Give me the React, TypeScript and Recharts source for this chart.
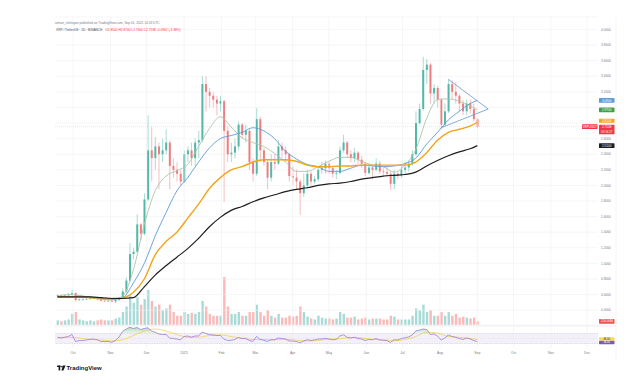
import { ComposedChart, Bar, Line, Area, XAxis, YAxis, CartesianGrid, ReferenceLine, ReferenceArea } from 'recharts';

const FONT = '"Liberation Sans", Arial, sans-serif';
const UP = '#52b8a8';
const DOWN = '#ec7f80';
const GRID = '#eef0f4';

// 3-day candles, day numbers counted from 2024-09-01 (open = previous close)
const firstDay = 17;
const stepDays = 3;
const firstOpen = 0.58;

const closes = [
  0.59, 0.58, 0.59, 0.6, 0.62, 0.53, 0.54, 0.54, 0.545, 0.55,
  0.555, 0.54, 0.52, 0.515, 0.52, 0.51, 0.53, 0.56, 0.64, 0.78,
  1.12, 1.15, 1.5, 1.38, 1.82, 2.45, 2.35, 2.5, 2.4, 2.45,
  2.55, 2.25, 2.2, 2.15, 2.05, 2.4, 2.45, 2.35, 2.55, 2.58,
  3.3, 3.2, 3.15, 3.1, 3.05, 3.08, 2.7, 2.4, 2.42, 2.5,
  2.78, 2.65, 2.7, 2.3, 2.15, 2.85, 2.45, 2.3, 2.1, 2.3,
  2.28, 2.5, 2.45, 2.4, 2.12, 2.1, 2.05, 1.9, 2.0, 2.15,
  2.05, 2.08, 2.2, 2.22, 2.28, 2.22, 2.15, 2.16, 2.45, 2.55,
  2.4, 2.35, 2.42, 2.33, 2.28, 2.16, 2.23, 2.2, 2.28, 2.18,
  2.17, 2.15, 2.02, 2.15, 2.12, 2.2, 2.23, 2.28, 2.4, 2.8,
  2.98, 3.48, 3.55, 3.18, 3.25, 3.1, 2.78, 2.95, 3.3, 3.2,
  3.15, 3.05, 2.95, 3.05, 2.98, 2.85, 2.7538,
];
const highs = [
  0.6, 0.6, 0.6, 0.62, 0.66, 0.63, 0.55, 0.55, 0.555, 0.56,
  0.565, 0.56, 0.545, 0.53, 0.53, 0.53, 0.55, 0.57, 0.68, 0.82,
  1.26, 1.2, 1.63, 1.52, 1.9, 2.9, 2.75, 2.62, 2.55, 2.6,
  2.72, 2.58, 2.35, 2.3, 2.2, 2.45, 2.5, 2.55, 2.6, 2.7,
  3.4, 3.4, 3.25, 3.2, 3.15, 3.15, 3.1, 2.75, 2.55, 2.6,
  2.82, 2.8, 2.78, 2.72, 2.35, 2.99, 2.88, 2.48, 2.32, 2.4,
  2.4, 2.58, 2.55, 2.5, 2.42, 2.25, 2.2, 2.08, 2.15, 2.2,
  2.18, 2.12, 2.25, 2.3, 2.32, 2.3, 2.25, 2.2, 2.5, 2.65,
  2.57, 2.45, 2.48, 2.44, 2.38, 2.3, 2.28, 2.25, 2.35, 2.32,
  2.22, 2.25, 2.18, 2.2, 2.18, 2.25, 2.3, 2.32, 2.45, 2.95,
  3.05, 3.65, 3.62, 3.57, 3.3, 3.28, 3.12, 3.05, 3.36, 3.35,
  3.32, 3.17, 3.1, 3.1, 3.1, 3.05, 2.87,
];
const lows = [
  0.57, 0.57, 0.57, 0.58, 0.59, 0.51, 0.52, 0.52, 0.53, 0.535,
  0.54, 0.53, 0.51, 0.505, 0.505, 0.5, 0.49, 0.52, 0.55, 0.62,
  0.77, 1.05, 1.12, 1.3, 1.36, 1.8, 2.05, 2.2, 1.95, 2.3,
  2.4, 1.95, 2.1, 2.05, 2.0, 2.03, 2.3, 2.25, 2.25, 2.35,
  2.55, 2.95, 3.0, 3.0, 2.9, 2.95, 1.79, 2.3, 2.3, 2.35,
  2.45, 2.6, 2.55, 2.2, 2.05, 2.12, 2.3, 2.25, 1.95, 2.05,
  2.2, 2.26, 2.35, 2.3, 2.05, 2.0, 1.95, 1.62, 1.85, 1.95,
  2.0, 2.02, 2.05, 2.15, 2.15, 2.15, 2.1, 2.08, 2.14, 2.42,
  2.35, 2.3, 2.3, 2.28, 2.22, 2.12, 2.14, 2.08, 2.18, 2.15,
  2.13, 2.1, 1.94, 1.95, 2.08, 2.1, 2.15, 2.18, 2.25, 2.38,
  2.78, 2.96, 3.3, 3.05, 3.05, 3.0, 2.72, 2.76, 2.93, 3.1,
  3.05, 2.95, 2.9, 2.9, 2.92, 2.82, 2.73,
];
// volume, millions of XRP
const volumes = [
  150, 120, 150, 180, 360, 420, 180, 150, 120, 150,
  120, 150, 180, 150, 150, 150, 210, 240, 420, 600,
  960, 720, 900, 660, 840, 1140, 780, 600, 660, 480,
  540, 660, 420, 300, 300, 420, 360, 390, 360, 420,
  780, 600, 360, 300, 300, 300, 1560, 600, 360, 360,
  420, 300, 300, 420, 420, 660, 420, 300, 480, 300,
  240, 360, 240, 240, 300, 270, 300, 600, 420, 270,
  210, 180, 300, 240, 210, 210, 180, 210, 420, 360,
  240, 240, 270, 180, 210, 240, 180, 210, 210, 210,
  180, 180, 300, 270, 180, 180, 180, 180, 300, 540,
  480, 660, 420, 480, 300, 300, 420, 300, 420, 300,
  360, 240, 270, 240, 210, 240, 120,
];
const rsi = [
  55, 52, 55, 58, 66, 38, 42, 42, 44, 47,
  48, 45, 38, 38, 38, 35, 42, 55, 78, 88,
  95, 90, 94, 86, 90, 93, 80, 75, 68, 66,
  66, 52, 50, 48, 45, 58, 60, 55, 60, 60,
  76, 70, 66, 64, 62, 62, 48, 42, 43, 46,
  54, 50, 51, 42, 38, 58, 46, 43, 38, 45,
  45, 52, 50, 48, 40, 40, 38, 33, 40, 45,
  42, 44, 48, 48, 51, 48, 45, 46, 60, 65,
  55, 52, 55, 50, 48, 42, 46, 45, 50, 44,
  43, 42, 34, 45, 44, 50, 53, 56, 64, 80,
  84, 88, 86, 66, 68, 60, 44, 52, 64, 58,
  55, 50, 46, 52, 48, 42, 38,
];

// moving averages read every 9 days
const maDays = [
  17, 26, 35, 44, 53, 62, 71, 80, 89, 98,
  107, 116, 125, 134, 143, 152, 161, 170, 179, 188,
  197, 206, 215, 224, 233, 242, 251, 260, 269, 278,
  287, 296, 305, 314, 323, 332, 341, 350, 359, 365,
];
const ma20 = [
  0.58, 0.6, 0.59, 0.56, 0.54, 0.53, 0.58, 0.92, 1.5, 1.93,
  2.12, 2.19, 2.27, 2.5, 2.73, 2.88, 2.75, 2.61, 2.55, 2.5,
  2.41, 2.3, 2.18, 2.18, 2.24, 2.31, 2.36, 2.36, 2.31, 2.26,
  2.24, 2.17, 2.26, 2.46, 2.86, 3.1, 3.11, 3.08, 3.02, 2.97,
];
const ma50 = [
  0.57, 0.57, 0.58, 0.57, 0.55, 0.54, 0.56, 0.75, 1.0, 1.35,
  1.65, 1.93, 2.1, 2.3, 2.48, 2.6, 2.64, 2.68, 2.74, 2.7,
  2.6, 2.44, 2.34, 2.27, 2.24, 2.18, 2.18, 2.22, 2.26, 2.25,
  2.24, 2.25, 2.28, 2.35, 2.53, 2.68, 2.84, 2.95, 3.05, 3.09,
];
const ma100 = [
  0.57, 0.57, 0.57, 0.56, 0.56, 0.55, 0.56, 0.63, 0.8, 1.11,
  1.28, 1.4, 1.58, 1.76, 1.96, 2.1, 2.2, 2.24, 2.3, 2.33,
  2.33, 2.33, 2.31, 2.26, 2.24, 2.24, 2.25, 2.25, 2.26, 2.26,
  2.26, 2.26, 2.26, 2.3, 2.42, 2.58, 2.68, 2.72, 2.76, 2.81,
];
const ma200 = [
  0.57, 0.57, 0.57, 0.57, 0.56, 0.55, 0.55, 0.56, 0.7, 0.85,
  0.97, 1.08, 1.19, 1.32, 1.47, 1.59, 1.68, 1.73, 1.79, 1.84,
  1.88, 1.92, 1.95, 1.97, 2.0, 2.02, 2.03, 2.05, 2.08, 2.1,
  2.12, 2.13, 2.14, 2.17, 2.25, 2.32, 2.38, 2.43, 2.47, 2.51,
];
const rsiMa = [
  53, 55, 52, 46, 44, 40, 45, 62, 80, 88,
  80, 66, 55, 55, 62, 64, 58, 50, 46, 46,
  45, 47, 43, 40, 43, 47, 49, 54, 52, 47,
  45, 41, 46, 58, 75, 72, 58, 55, 50, 46,
];

// triangle drawn on the chart (day, price)
const triangle = [
  { x1: 341, y1: 3.36, x2: 374, y2: 2.98 },
  { x1: 335, y1: 2.74, x2: 374, y2: 2.98 },
];

const priceTicks = [0.4, 0.6, 0.8, 1.0, 1.2, 1.4, 1.6, 1.8, 2.0, 2.2, 2.4, 2.6, 2.8, 3.0, 3.2, 3.4, 3.6, 3.8, 4.0];
// tick labels covered by the value tags on the price scale
const coveredTicks = [2.8, 3.0];
const monthDays = [30, 61, 91, 122, 153, 181, 212, 242, 273, 303, 334, 365, 395, 426, 456];
const monthLabels = ['Oct', 'Nov', 'Dec', '2025', 'Feb', 'Mar', 'Apr', 'May', 'Jun', 'Jul', 'Aug', 'Sep', 'Oct', 'Nov', 'Dec'];

const rows: any[] = closes.map((close, i) => {
  const open = i === 0 ? firstOpen : closes[i - 1];
  return {
    day: firstDay + i * stepDays,
    open,
    close,
    high: highs[i],
    low: lows[i],
    range: [lows[i], highs[i]],
    volume: volumes[i],
    up: close >= open,
    rsi: rsi[i],
    rsiOb: [70, Math.max(70, rsi[i])],
  };
});
maDays.forEach((d, k) => {
  const r = rows.find((row) => row.day === d);
  if (r) Object.assign(r, { ma20: ma20[k], ma50: ma50[k], ma100: ma100[k], ma200: ma200[k], rsiMa: rsiMa[k] });
});

const last = rows[rows.length - 1];
const change = last.close - last.open;

const Candle = (props: any) => {
  const { x, y, width, height, payload } = props;
  if (!payload || height == null) return null;
  const color = payload.up ? UP : DOWN;
  const k = height / Math.max(payload.high - payload.low, 1e-9);
  const yo = y + (payload.high - payload.open) * k;
  const yc = y + (payload.high - payload.close) * k;
  const cx = x + width / 2;
  return (
    <g>
      <line x1={cx} x2={cx} y1={y} y2={y + height} stroke={color} strokeWidth={0.5} />
      <rect x={x} y={Math.min(yo, yc)} width={width} height={Math.max(Math.abs(yo - yc), 0.6)} fill={color} />
    </g>
  );
};

const VolBar = (props: any) => {
  const { x, y, width, height, payload } = props;
  if (!payload || !height) return null;
  return <rect x={x} y={y} width={width} height={height} fill={payload.up ? 'rgba(38,166,154,0.4)' : 'rgba(239,83,80,0.4)'} />;
};

const Tag = (props: any) => {
  const { viewBox, text, sub, bg, fg = '#fff', dy = 0, left, h = 4.8, fs = 3.1 } = props;
  if (!viewBox) return null;
  const y = viewBox.y + dy;
  if (left) {
    const x = viewBox.x + viewBox.width - 16;
    return (
      <g>
        <rect x={x} y={y - 2.4} width={15.5} height={4.8} rx={0.6} fill={bg} />
        <text x={x + 7.75} y={y + 1.1} fontSize={3} textAnchor="middle" fill={fg} fontFamily={FONT}>{text}</text>
      </g>
    );
  }
  const x = viewBox.x + viewBox.width + 1;
  return (
    <g>
      <rect x={x} y={y - h / 2} width={15.5} height={sub ? h + 4.6 : h} rx={0.6} fill={bg} />
      <text x={x + 7.75} y={y + fs * 0.35} fontSize={fs} textAnchor="middle" fill={fg} fontFamily={FONT}>{text}</text>
      {sub && <text x={x + 7.75} y={y + 5.6} fontSize={2.9} textAnchor="middle" fill={fg} fontFamily={FONT}>{sub}</text>}
    </g>
  );
};

const PriceTick = (props: any) => {
  const { x, y, payload } = props;
  if (coveredTicks.includes(payload.value)) return null;
  return (
    <text x={x} y={y + 1.1} fontSize={3.2} fill="#787b86" fontFamily={FONT}>{fmt(payload.value)}</text>
  );
};

const MonthTick = (props: any) => {
  const { x, y, payload } = props;
  return (
    <text x={x} y={y + 6.4} textAnchor="middle" fontSize={3.4} fill="#787b86" fontFamily={FONT}>
      {monthLabels[monthDays.indexOf(payload.value)]}
    </text>
  );
};

const fmt = (v: number) => v.toFixed(4);

export default function App() {
  const xDomain: [number, number] = [15, 465];
  return (
    <div style={{ position: 'absolute', left: 0, top: 0, width: 640, height: 385, background: '#fff', overflow: 'hidden' }}>
      {/* volume */}
      <div style={{ position: 'absolute', left: 0, top: 0 }}>
        <ComposedChart width={640} height={326} data={rows} margin={{ top: 17, right: 42, left: 55, bottom: 1 }}>
          <XAxis dataKey="day" type="number" domain={xDomain} allowDataOverflow hide />
          <YAxis domain={[0, 10000]} allowDataOverflow hide />
          <Bar dataKey="volume" barSize={2.4} shape={<VolBar />} isAnimationActive={false} />
          <ReferenceLine y={last.volume} stroke="none" label={<Tag text={`${last.volume.toFixed(2)}M`} bg="#ef5350" />} />
        </ComposedChart>
      </div>

      {/* price */}
      <div style={{ position: 'absolute', left: 0, top: 0 }}>
        <ComposedChart width={640} height={326} data={rows} margin={{ top: 17, right: 24, left: 55, bottom: 1 }}>
          <CartesianGrid vertical={false} stroke={GRID} strokeWidth={0.6} />
          {monthDays.map((d) => (
            <ReferenceLine key={d} x={d} stroke={GRID} strokeWidth={0.6} />
          ))}
          <XAxis dataKey="day" type="number" domain={xDomain} allowDataOverflow hide />
          <YAxis
            orientation="right"
            width={18}
            domain={[0.21, 4.16]}
            allowDataOverflow
            ticks={priceTicks}
            interval={0}
            tickLine={false}
            axisLine={false}
            tickSize={3}
            tickMargin={0}
            tick={<PriceTick />}
          />
          <Bar dataKey="range" barSize={2} shape={<Candle />} isAnimationActive={false} />
          <Line dataKey="ma20" type="monotone" stroke="#adc5a8" strokeWidth={0.9} dot={false} connectNulls isAnimationActive={false} />
          <Line dataKey="ma50" type="monotone" stroke="#5b9bd8" strokeWidth={0.9} dot={false} connectNulls isAnimationActive={false} />
          <Line dataKey="ma100" type="monotone" stroke="#f0a51c" strokeWidth={1.4} dot={false} connectNulls isAnimationActive={false} />
          <Line dataKey="ma200" type="monotone" stroke="#1e1e1e" strokeWidth={1.2} dot={false} connectNulls isAnimationActive={false} />
          {triangle.map((t, i) => (
            <ReferenceLine
              key={i}
              segment={[{ x: t.x1, y: t.y1 }, { x: t.x2, y: t.y2 }]}
              stroke="#6a95d8"
              strokeWidth={0.8}
            />
          ))}
          <ReferenceLine y={ma50[ma50.length - 1]} stroke="none" label={<Tag text={fmt(ma50[ma50.length - 1])} bg="#5b9bd8" />} />
          <ReferenceLine y={ma20[ma20.length - 1]} stroke="none" label={<Tag text={fmt(ma20[ma20.length - 1])} bg="#43a047" />} />
          <ReferenceLine y={ma100[ma100.length - 1]} stroke="none" label={<Tag text={fmt(ma100[ma100.length - 1])} bg="#f0a51c" dy={-1.6} h={4} />} />
          <ReferenceLine y={ma200[ma200.length - 1]} stroke="none" label={<Tag text={fmt(ma200[ma200.length - 1])} bg="#1e1e1e" />} />
          <ReferenceLine
            y={last.close}
            stroke="#f23645"
            strokeOpacity={0.35}
            strokeWidth={0.5}
            strokeDasharray="1 1"
            label={<Tag text={fmt(last.close)} sub="09:16:27" bg="#f23645" dy={0.6} />}
          />
          <ReferenceLine y={last.close} stroke="none" label={<Tag text="XRPUSDT" bg="#f23645" left />} />
        </ComposedChart>
      </div>

      {/* RSI */}
      <div style={{ position: 'absolute', left: 0, top: 326 }}>
        <ComposedChart width={640} height={34} data={rows} margin={{ top: 1, right: 24, left: 55, bottom: 0 }}>
          <defs>
            <linearGradient id="ob" x1="0" y1="0" x2="0" y2="1">
              <stop offset="0%" stopColor="#4caf50" stopOpacity={0.7} />
              <stop offset="100%" stopColor="#4caf50" stopOpacity={0.15} />
            </linearGradient>
          </defs>
          <ReferenceArea y1={30} y2={70} fill="#7e57c2" fillOpacity={0.09} stroke="none" />
          {monthDays.map((d) => (
            <ReferenceLine key={d} x={d} stroke={GRID} strokeWidth={0.6} />
          ))}
          <ReferenceLine y={70} stroke="#b2b5be" strokeWidth={0.4} strokeDasharray="1.5 1" />
          <ReferenceLine y={50} stroke="#c9cbd2" strokeWidth={0.3} strokeDasharray="0.6 0.8" />
          <ReferenceLine y={30} stroke="#b2b5be" strokeWidth={0.4} strokeDasharray="1.5 1" />
          <XAxis
            dataKey="day"
            type="number"
            domain={xDomain}
            allowDataOverflow
            ticks={monthDays}
            interval={0}
            height={12}
            tickLine={false}
            axisLine={false}
            tickSize={0}
            tickMargin={0}
            tick={<MonthTick />}
          />
          <YAxis
            orientation="right"
            width={18}
            domain={[12, 96]}
            allowDataOverflow
            ticks={[70]}
            tickFormatter={(v: number) => v.toFixed(2)}
            tickLine={false}
            axisLine={false}
            tickSize={3}
            tickMargin={0}
            tick={{ fontSize: 3.1, fill: '#787b86', fontFamily: FONT }}
          />
          <Area dataKey="rsiOb" type="linear" stroke="none" fill="url(#ob)" isAnimationActive={false} />
          <Line dataKey="rsiMa" type="monotone" stroke="#f5c518" strokeWidth={0.6} dot={false} connectNulls isAnimationActive={false} />
          <Line dataKey="rsi" type="linear" stroke="#8e6fd0" strokeWidth={0.7} dot={false} isAnimationActive={false} />
          <ReferenceLine y={rsiMa[rsiMa.length - 1]} stroke="none" label={<Tag text={rsiMa[rsiMa.length - 1].toFixed(2)} bg="#f5e042" fg="#333" h={3.4} fs={2.7} dy={-0.6} />} />
          <ReferenceLine y={last.rsi} stroke="none" label={<Tag text={last.rsi.toFixed(2)} bg="#7e57c2" h={3.4} fs={2.7} dy={1} />} />
        </ComposedChart>
      </div>

      {/* legend, frame and logo */}
      <svg width={640} height={385} style={{ position: 'absolute', left: 0, top: 0, pointerEvents: 'none' }} fontFamily={FONT}>
        <text x={55} y={23.6} fontSize={3.2} fill="#787b86">
          arman_shirinyan published on TradingView.com, Sep 01, 2025 14:43 UTC
        </text>
        <text x={56} y={30.6} fontSize={3.2} fill="#4a4d57">
          XRP / TetherUS · 1D · BINANCE
          <tspan dx={3} fill="#f23645">
            O{fmt(last.open)} H{fmt(last.high)} L{fmt(last.low)} C{fmt(last.close)} {change.toFixed(4)} ({((change / last.open) * 100).toFixed(2)}%)
          </tspan>
        </text>
        <line x1={55} x2={616} y1={326} y2={326} stroke="#e0e3eb" strokeWidth={0.6} />
        <line x1={616} x2={616} y1={17} y2={360} stroke="#eceef2" strokeWidth={0.6} />
        <g fill="#131722">
          <rect x={57} y={365.6} width={3.6} height={1.4} />
          <rect x={58.6} y={365.6} width={1.6} height={4.8} />
          <circle cx={62} cy={366.6} r={0.9} />
          <polygon points="63.2,365.6 65.6,365.6 63.4,370.4 61.3,370.4" />
        </g>
        <text x={66.5} y={370.3} fontSize={6} fontWeight={700} fill="#131722">TradingView</text>
      </svg>
    </div>
  );
}
